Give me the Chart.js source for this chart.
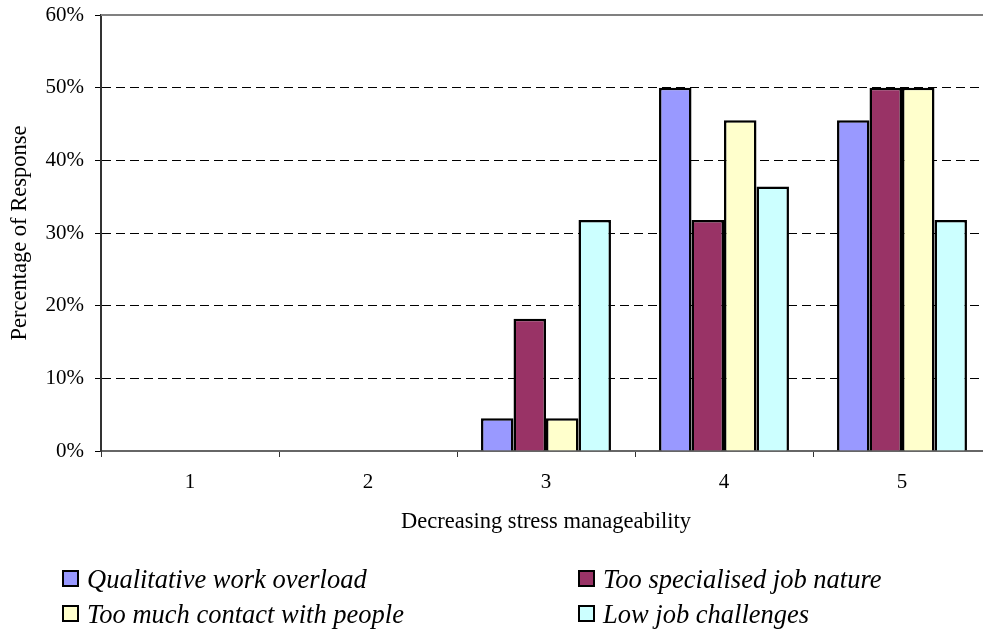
<!DOCTYPE html>
<html>
<head>
<meta charset="utf-8">
<script src="https://cdn.jsdelivr.net/npm/chart.js@4"></script>
<style>
    html, body { margin: 0; padding: 0; background: #fff; overflow: hidden; }
    #wrap { position: relative; width: 1000px; height: 635px; }
    .legend-item {
        position: absolute;
        height: 30px;
        line-height: 30px;
        font-family: "Liberation Serif", "Times New Roman", serif;
        font-style: italic;
        font-size: 26.5px;
        color: #000;
        white-space: nowrap;
    }
    .legend-box {
        position: absolute;
        left: 0;
        top: 6px;
        width: 17px;
        height: 17px;
        box-sizing: border-box;
        border: 2.5px solid #000;
    }
    .legend-text { position: absolute; left: 25px; top: 0; }
</style>
</head>
<body>
<div id="wrap">
    <canvas id="stressChart" width="1000" height="635"></canvas>
    <div id="legend"></div>
</div>
<script>
// Datos
const categories = ['1', '2', '3', '4', '5'];
const workOverload = [0, 0, 4.5, 50, 45.5];
const specialisedJob = [0, 0, 18.2, 31.8, 50];
const contactPeople = [0, 0, 4.5, 45.5, 50];
const lowChallenges = [0, 0, 31.8, 36.4, 31.8];
const seriesNames = ['Qualitative work overload', 'Too specialised job nature', 'Too much contact with people', 'Low job challenges'];
const yMin = 0;
const yMax = 60;
const yStep = 10;

const seriesColors = ['#9999FF', '#993366', '#FFFFCC', '#CCFFFF'];
const SERIF = '"Liberation Serif", serif';

// Borde superior gris del area de trazado
const topBorder = {
    id: 'topBorder',
    afterDatasetsDraw(chart) {
        const { ctx, chartArea } = chart;
        const y = chart.scales.y.getPixelForValue(yMax);
        ctx.save();
        ctx.strokeStyle = '#808080';
        ctx.lineWidth = 2;
        ctx.beginPath();
        ctx.moveTo(chartArea.left, y);
        ctx.lineTo(chartArea.right, y);
        ctx.stroke();
        ctx.restore();
    }
};

// Leyenda en dos columnas (HTML), como en la hoja original
function buildLegend() {
    const legend = document.getElementById('legend');
    const spots = [[62, 564], [578, 564], [62, 599], [578, 599]];
    seriesNames.forEach((name, i) => {
        const item = document.createElement('div');
        item.className = 'legend-item';
        item.style.left = spots[i][0] + 'px';
        item.style.top = spots[i][1] + 'px';
        const box = document.createElement('span');
        box.className = 'legend-box';
        box.style.background = seriesColors[i];
        const text = document.createElement('span');
        text.className = 'legend-text';
        text.textContent = name;
        item.appendChild(box);
        item.appendChild(text);
        legend.appendChild(item);
    });
}

const ctx = document.getElementById('stressChart').getContext('2d');
new Chart(ctx, {
    type: 'bar',
    data: {
        labels: categories,
        datasets: [{
            label: seriesNames[0],
            data: workOverload,
            backgroundColor: seriesColors[0]
        },
        {
            label: seriesNames[1],
            data: specialisedJob,
            backgroundColor: seriesColors[1]
        },
        {
            label: seriesNames[2],
            data: contactPeople,
            backgroundColor: seriesColors[2]
        },
        {
            label: seriesNames[3],
            data: lowChallenges,
            backgroundColor: seriesColors[3]
        }
        ]
    },
    options: {
        responsive: false,
        animation: false,
        layout: {
            padding: { top: 15, right: 9, bottom: 95, left: 0 }
        },
        datasets: {
            bar: {
                borderColor: '#000',
                borderWidth: 2.5,
                categoryPercentage: 0.73,
                barPercentage: 1
            }
        },
        plugins: {
            legend: { display: false },
            tooltip: { enabled: false }
        },
        scales: {
            x: {
                offset: true,
                grid: {
                    offset: true,
                    drawOnChartArea: false,
                    tickLength: 6,
                    color: '#333',
                    tickColor: '#333'
                },
                border: { color: '#666', width: 2 },
                ticks: {
                    padding: 13,
                    color: '#000',
                    font: { family: SERIF, size: 21 }
                },
                title: {
                    display: true,
                    text: 'Decreasing stress manageability',
                    color: '#000',
                    font: { family: SERIF, size: 22.5 },
                    padding: { top: 0, bottom: 4 }
                },
                afterFit: (s) => {
                    s.height = 89;
                    s.paddingLeft = 0;
                    s.paddingRight = 0;
                }
            },
            y: {
                min: yMin,
                max: yMax,
                ticks: {
                    stepSize: yStep,
                    padding: 11,
                    color: '#000',
                    font: { family: SERIF, size: 21 },
                    callback: (v) => v + '%'
                },
                grid: {
                    color: (c) => (c.tick && (c.tick.value === yMin || c.tick.value === yMax)) ? 'rgba(0,0,0,0)' : '#000',
                    tickColor: '#000',
                    tickLength: 6,
                    lineWidth: 1
                },
                border: { color: '#333', width: 2, dash: [9, 5] },
                title: {
                    display: true,
                    text: 'Percentage of Response',
                    color: '#000',
                    font: { family: SERIF, size: 22.5 },
                    padding: { top: 7, bottom: 0 }
                },
                afterFit: (s) => {
                    s.width = 101;
                    s.paddingTop = 0;
                    s.paddingBottom = 0;
                }
            }
        }
    },
    plugins: [topBorder]
});

buildLegend();
</script>
</body>
</html>
